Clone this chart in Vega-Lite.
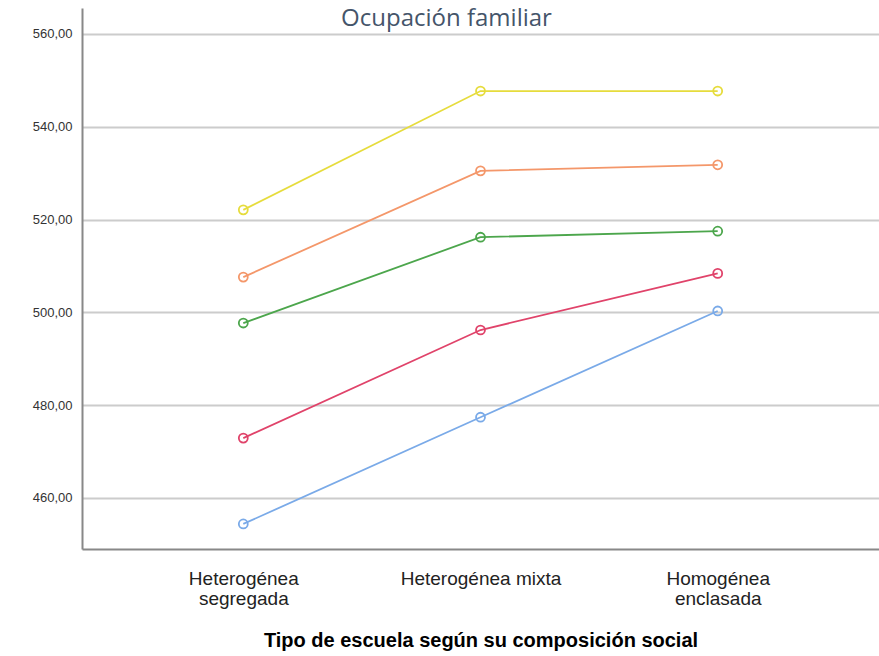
{
  "$schema": "https://vega.github.io/schema/vega-lite/v6.json",
  "width": 797,
  "height": 541,
  "autosize": {"type": "none"},
  "padding": {"left": 82, "top": 8, "right": 0, "bottom": 107},
  "background": "white",
  "title": {
    "text": "Ocupación familiar",
    "anchor": "middle",
    "orient": "bottom",
    "baseline": "top",
    "offset": -635,
    "dy": -8,
    "dx": -34,
    "font": "Open Sans",
    "fontSize": 24,
    "fontWeight": "normal",
    "color": "#45556a"
  },
  "data": {
    "values": [
      {"escuela": "Heterogénea segregada", "ocupacion": "Alta", "media": 522.1},
      {"escuela": "Heterogénea mixta", "ocupacion": "Alta", "media": 547.7},
      {"escuela": "Homogénea enclasada", "ocupacion": "Alta", "media": 547.7},
      {"escuela": "Heterogénea segregada", "ocupacion": "Media-alta", "media": 507.6},
      {"escuela": "Heterogénea mixta", "ocupacion": "Media-alta", "media": 530.5},
      {"escuela": "Homogénea enclasada", "ocupacion": "Media-alta", "media": 531.8},
      {"escuela": "Heterogénea segregada", "ocupacion": "Media", "media": 497.7},
      {"escuela": "Heterogénea mixta", "ocupacion": "Media", "media": 516.2},
      {"escuela": "Homogénea enclasada", "ocupacion": "Media", "media": 517.5},
      {"escuela": "Heterogénea segregada", "ocupacion": "Media-baja", "media": 472.9},
      {"escuela": "Heterogénea mixta", "ocupacion": "Media-baja", "media": 496.2},
      {"escuela": "Homogénea enclasada", "ocupacion": "Media-baja", "media": 508.4},
      {"escuela": "Heterogénea segregada", "ocupacion": "Baja", "media": 454.4},
      {"escuela": "Heterogénea mixta", "ocupacion": "Baja", "media": 477.4},
      {"escuela": "Homogénea enclasada", "ocupacion": "Baja", "media": 500.3}
    ]
  },
  "encoding": {
    "x": {
      "field": "escuela",
      "type": "nominal",
      "sort": ["Heterogénea segregada", "Heterogénea mixta", "Homogénea enclasada"],
      "scale": {"type": "point", "padding": 0.68},
      "axis": {
        "title": "Tipo de escuela según su composición social",
        "titleFont": "Liberation Sans",
        "titleFontSize": 20,
        "titleFontWeight": "bold",
        "titleColor": "#000000",
        "titlePadding": 22,
        "labelAngle": 0,
        "labelFont": "Liberation Sans",
        "labelFontSize": 19,
        "labelColor": "#222222",
        "labelPadding": 20,
        "labelLineHeight": 20,
        "labelExpr": "datum.value == 'Heterogénea mixta' ? datum.value : split(datum.value, ' ')",
        "ticks": false,
        "domainColor": "#888888",
        "domainWidth": 2,
        "grid": false
      }
    },
    "y": {
      "field": "media",
      "type": "quantitative",
      "scale": {"domain": [449, 565.6], "nice": false, "zero": false},
      "axis": {
        "title": null,
        "values": [460, 480, 500, 520, 540, 560],
        "labelExpr": "replace(format(datum.value, '.2f'), '.', ',')",
        "labelFont": "Liberation Sans",
        "labelFontSize": 13,
        "labelColor": "#333333",
        "labelPadding": 10,
        "ticks": false,
        "domainColor": "#888888",
        "domainWidth": 2,
        "grid": true,
        "gridColor": "#cccccc",
        "gridWidth": 2
      }
    },
    "color": {
      "field": "ocupacion",
      "type": "nominal",
      "scale": {
        "domain": ["Alta", "Media-alta", "Media", "Media-baja", "Baja"],
        "range": ["#e6dc3c", "#f4976a", "#4ca64c", "#e0436a", "#7aaae8"]
      },
      "legend": null
    }
  },
  "layer": [
    {"mark": {"type": "line", "strokeWidth": 1.8}},
    {"mark": {"type": "point", "filled": false, "size": 80, "strokeWidth": 1.8, "opacity": 1}}
  ],
  "config": {
    "view": {"stroke": null}
  }
}
